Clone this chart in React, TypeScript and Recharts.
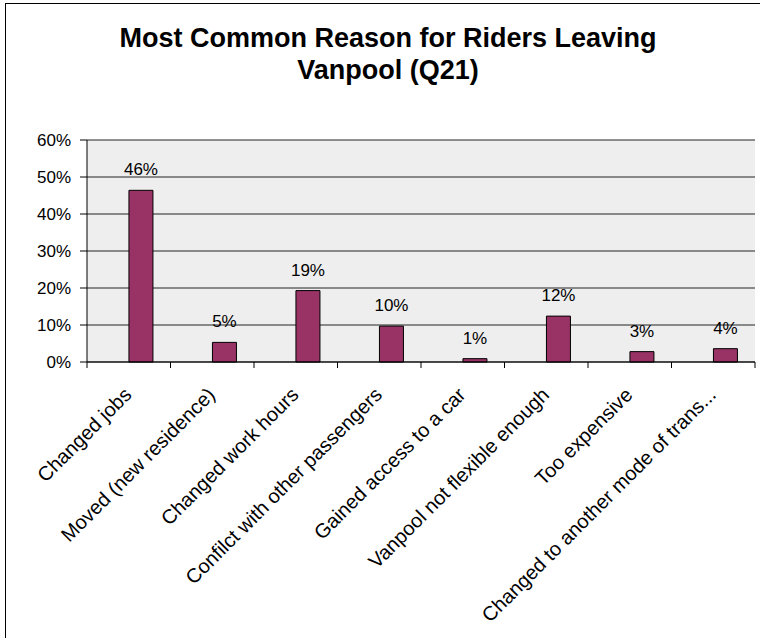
import { BarChart, Bar, XAxis, YAxis, CartesianGrid, LabelList } from 'recharts';

const categories = [
  'Changed jobs',
  'Moved (new residence)',
  'Changed work hours',
  'Confilct with other passengers',
  'Gained access to a car',
  'Vanpool not flexible enough',
  'Too expensive',
  'Changed to another mode of trans...',
];

const shares = [46.4, 5.3, 19.3, 9.7, 0.9, 12.4, 2.8, 3.6];

const yTicks = [0, 10, 20, 30, 40, 50, 60];

const data = categories.map((name, i) => ({ name, share: shares[i] }));

const FONT = '"Liberation Sans", Arial, sans-serif';
const TICK_SIZE = 6;
const TICK_MARGIN = 6;

const CategoryTick = (props: any) => {
  const { x, y, payload, index } = props;
  const half = payload?.offset ?? 0;
  const axisY = y - TICK_SIZE - TICK_MARGIN;
  const last = index === categories.length - 1;
  return (
    <g>
      <line x1={x - half} x2={x - half} y1={axisY} y2={axisY + TICK_SIZE} stroke="#000" />
      {last && <line x1={x + half} x2={x + half} y1={axisY} y2={axisY + TICK_SIZE} stroke="#000" />}
      <text
        transform={`translate(${x - 6},${y + 12}) rotate(-45)`}
        textAnchor="end"
        dy="0.71em"
        fontSize={20}
        fontFamily={FONT}
        fill="#000"
      >
        {payload.value}
      </text>
    </g>
  );
};

const App = () => {
  return (
    <div style={{ position: 'fixed', left: 0, top: 0, width: 760, height: 638, background: '#fff', overflow: 'hidden' }}>
      <div
        style={{
          position: 'absolute',
          left: 5,
          top: 3,
          width: 800,
          height: 700,
          border: '1px solid #000',
        }}
      />
      <div
        style={{
          position: 'absolute',
          left: 0,
          top: 22,
          width: 776,
          textAlign: 'center',
          fontFamily: FONT,
          fontWeight: 'bold',
          fontSize: 27,
          lineHeight: '32px',
          color: '#000',
        }}
      >
        Most Common Reason for Riders Leaving
        <br />
        Vanpool (Q21)
      </div>
      <div style={{ position: 'absolute', left: 0, top: 0 }}>
        <BarChart
          width={760}
          height={638}
          data={data}
          margin={{ top: 140, right: 5, left: 0, bottom: 0 }}
          barCategoryGap="21.5%"
          barGap={0}
        >
          <CartesianGrid fill="#EEEEEE" vertical={false} stroke="#000" strokeOpacity={0.85} />
          <XAxis
            dataKey="name"
            interval={0}
            height={276}
            tickLine={false}
            tickSize={TICK_SIZE}
            tickMargin={TICK_MARGIN}
            axisLine={{ stroke: '#000' }}
            tick={<CategoryTick />}
          />
          <XAxis xAxisId="top" orientation="top" dataKey="name" height={0} tick={false} tickLine={false} axisLine={{ stroke: '#808080', strokeWidth: 2 }} />
          <YAxis
            width={87}
            domain={[0, 60]}
            ticks={yTicks}
            interval={0}
            tickFormatter={(v: number) => `${v}%`}
            tickSize={7}
            tickMargin={9}
            axisLine={{ stroke: '#000' }}
            tickLine={{ stroke: '#000' }}
            tick={{ fill: '#000', fontSize: 17, fontFamily: FONT }}
          />
          <YAxis yAxisId="right" orientation="right" width={0} domain={[0, 60]} tick={false} tickLine={false} axisLine={{ stroke: '#808080', strokeWidth: 2 }} />
          {/* empty first series, as in the source sheet, so bars sit right of centre */}
          <Bar dataKey="blank" fill="#993366" isAnimationActive={false} />
          <Bar dataKey="share" fill="#993366" stroke="#000" strokeWidth={1} isAnimationActive={false}>
            <LabelList
              dataKey="share"
              position="top"
              offset={15}
              formatter={(v: any) => `${Math.round(Number(v))}%`}
              style={{ fill: '#000', fontSize: 17, fontFamily: FONT }}
            />
          </Bar>
        </BarChart>
      </div>
    </div>
  );
};

export default App;
